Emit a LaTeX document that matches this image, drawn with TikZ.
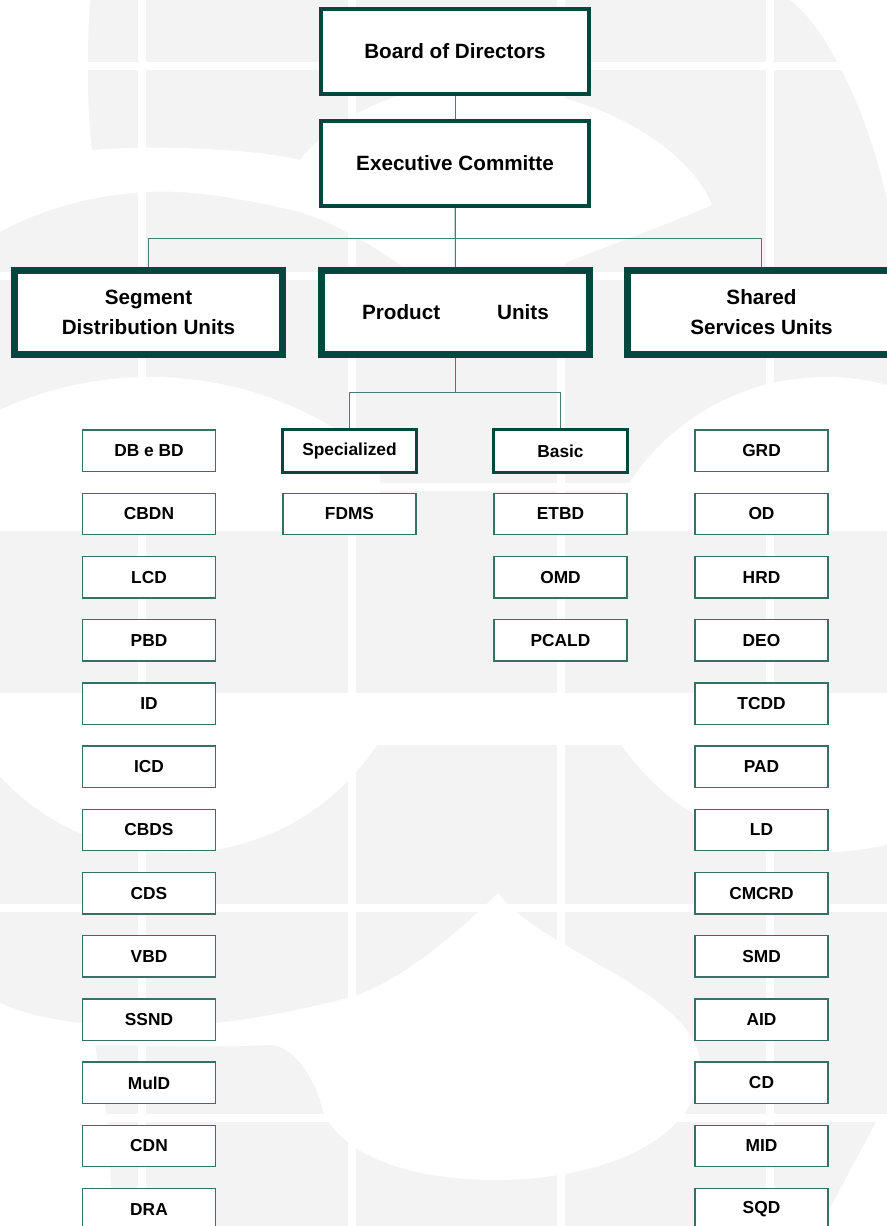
\documentclass[tikz,border=0pt]{standalone}
\usepackage{fontspec}
\setmainfont{Liberation Sans}
\pgfdeclarelayer{background}
\pgfsetlayers{background,main}
\definecolor{dkgreen}{RGB}{0,72,62}
\definecolor{lkgreen}{RGB}{70,125,118}
\definecolor{boxgreen}{RGB}{55,112,105}
\definecolor{wmgray}{RGB}{242,243,242}
\tikzstyle{topbox}=[draw=dkgreen,line width=3pt,fill=white,inner sep=0pt,minimum width=201pt,minimum height=63.75pt,font=\bfseries\fontsize{15.5}{22.5}\selectfont,align=center]
\tikzstyle{unitbox}=[topbox,line width=5.25pt,minimum height=63pt]
\tikzstyle{subbox}=[draw=dkgreen,line width=2.25pt,fill=white,inner sep=0pt,minimum width=100.5pt,minimum height=32.25pt,font=\bfseries\fontsize{13}{15}\selectfont]
\tikzstyle{dept}=[subbox,draw=boxgreen,line width=1pt,minimum width=99.75pt,minimum height=31.1pt]
\tikzstyle{link}=[draw=lkgreen,line width=0.75pt]

\begin{document}
\begin{tikzpicture}[x=0.75pt,y=-0.75pt]
    \useasboundingbox (0,0) rectangle (887,1226);
    % Top of the chart
    \node[topbox] (board) at (455,51.5) {Board of Directors};
    \node[topbox] (exec) at (455,163.3) {Executive Committe};
    % The three kinds of units
    \foreach \pos/\name/\text in {{(148.5,312.5)/segment/Segment\\Distribution Units},
            {(455.5,312.5)/product/Product\hspace*{42.7pt}Units},
            {(761.5,312.5)/shared/Shared\\Services Units}}
        \node[unitbox] (\name) at \pos {\text};
    \node[subbox] (spec) at (349.5,451) {Specialized};
    \node[subbox] (basic) at (560.5,451) {Basic};
    % Departments, one column per unit
    \foreach \name/\text [count=\i from 0] in {dbbd/DB e BD, cbdn/CBDN, lcd/LCD, pbd/PBD,
            id/ID, icd/ICD, cbds/CBDS, cds/CDS, vbd/VBD, ssnd/SSND, muid/MulD, cdn/CDN, dra/DRA}
        \node[dept] (\name) at (149,450.8+63.2*\i) {\text};
    \node[dept] (fdms) at (349.5,514) {FDMS};
    \foreach \name/\text [count=\i from 1] in {etbd/ETBD, omd/OMD, pcald/PCALD}
        \node[dept] (\name) at (560.5,450.8+63.2*\i) {\text};
    \foreach \name/\text [count=\i from 0] in {grd/GRD, od/OD, hrd/HRD, deo/DEO, tcdd/TCDD,
            pad/PAD, ld/LD, cmcrd/CMCRD, smd/SMD, aid/AID, cd/CD, mid/MID, sqd/SQD}
        \node[dept] (\name) at (761.5,450.8+63.2*\i) {\text};

    \begin{pgfonlayer}{background}
        % Watermark behind the chart
        \fill[wmgray] (0,0) rectangle (887,1226);
        \fill[white] (0,0) -- (90,0) .. controls (86,60) and (88,120) .. (92,150)
            .. controls (150,145) and (250,148) .. (300,160)
            .. controls (330,120) and (400,84) .. (470,84)
            .. controls (600,88) and (690,150) .. (712,205)
            .. controls (650,232) and (580,255) .. (545,272) -- (410,272)
            .. controls (380,250) and (340,225) .. (300,212)
            .. controls (230,195) and (180,190) .. (147,192)
            .. controls (90,195) and (40,210) .. (0,232) -- cycle;
        \fill[white] (790,0) .. controls (830,30) and (870,120) .. (887,200) -- (887,0) -- cycle;
        \begin{scope}
            \clip (0,280) rectangle (380,530);
            \fill[white] (150,734) circle (267.75pt);
        \end{scope}
        \begin{scope}
            \clip (564,280) rectangle (887,530);
            \fill[white] (826,613) circle (177pt);
        \end{scope}
        \fill[white] (0,697) rectangle (887,745);
        \begin{scope}
            \clip (0,697) rectangle (390,904);
            \fill[white] (176,612) circle (180.75pt);
        \end{scope}
        \begin{scope}
            \clip (564,697) rectangle (887,904);
            \fill[white] (826,603) circle (186.75pt);
        \end{scope}
        \fill[white] (0,1003) .. controls (60,1030) and (160,1030) .. (217,1023)
            .. controls (280,1015) and (320,1005) .. (355,996)
            .. controls (400,980) and (450,940) .. (498,893)
            .. controls (540,950) and (690,990) .. (700,1060)
            .. controls (705,1140) and (600,1180) .. (496,1180)
            .. controls (400,1180) and (330,1150) .. (320,1100)
            .. controls (310,1070) and (290,1045) .. (270,1045)
            .. controls (200,1048) and (130,1045) .. (95,1045)
            .. controls (100,1080) and (110,1100) .. (112,1226) -- (0,1226) -- cycle;
        \fill[white] (876,1122) .. controls (850,1170) and (835,1200) .. (820,1226)
            -- (887,1226) -- (887,1122) -- cycle;
        \foreach \gx in {142,351.5,560.5,770}
            \draw[white,line width=6pt] (\gx,0) -- (\gx,1226);
        \foreach \gy in {66,276,487,697,908,1118}
            \draw[white,line width=6pt] (0,\gy) -- (887,\gy);
        % Connect the boxes
        \path[link] (board) -- (exec);
        \path[link] (exec.south) -- (product.north);
        \foreach \dest in {segment,shared}
            \path[link] (exec.south) -- ++(0,31.2) -| (\dest.north);
        \foreach \dest in {spec,basic}
            \path[link] (product.south) -- ++(0,34.5) -| (\dest.north);
    \end{pgfonlayer}
\end{tikzpicture}
\end{document}
